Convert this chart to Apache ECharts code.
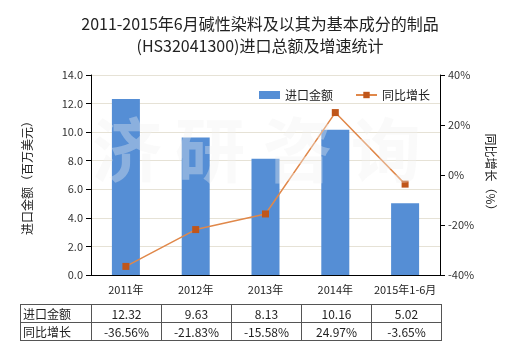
<!DOCTYPE html>
<html><head><meta charset="utf-8">
<script src="https://cdn.jsdelivr.net/npm/echarts@6/dist/echarts.min.js"></script>
<style>
html,body{margin:0;padding:0;background:#fff;}
#c{width:520px;height:350px;position:relative;}
#tbl{position:absolute;left:20px;top:304px;border-collapse:collapse;font-family:"Noto Sans CJK SC",sans-serif;font-size:12px;color:#222;}
#tbl td{border:1px solid #555;height:17px;padding:0;line-height:17px;text-align:center;width:69px;}
#tbl td.h{text-align:left;padding-left:2px;width:68px;}
</style></head>
<body>
<div id="c"><div id="chart" style="width:520px;height:350px;"></div>
<table id="tbl"></table></div>
<script>
var categories = ['2011年','2012年','2013年','2014年','2015年1-6月'];
var importValues = [12.32, 9.63, 8.13, 10.16, 5.02];
var growthValues = [-36.56, -21.83, -15.58, 24.97, -3.65];
var importLabels = ['12.32','9.63','8.13','10.16','5.02'];
var growthLabels = ['-36.56%','-21.83%','-15.58%','24.97%','-3.65%'];
var seriesNames = ['进口金额','同比增长'];

var font = '"Noto Sans CJK SC", sans-serif';
var chart = echarts.init(document.getElementById('chart'));
var wm = ['济','研','咨','询'];
var wmX = [127,210,298,386];
chart.setOption({
  animation:false,
  title:{text:'2011-2015年6月碱性染料及以其为基本成分的制品\n(HS32041300)进口总额及增速统计',left:'center',top:8,
    textStyle:{fontFamily:font,fontSize:16,fontWeight:'normal',color:'#222',lineHeight:22}},
  legend:{left:254,top:84,itemWidth:21,itemHeight:8,itemGap:22,
    textStyle:{fontFamily:font,fontSize:12,color:'#222'},
    data:[{name:seriesNames[0],icon:'rect'},{name:seriesNames[1]}]},
  grid:{left:91,right:80,top:75,height:200},
  xAxis:{type:'category',data:categories,
    axisLine:{lineStyle:{color:'#000'}},axisTick:{alignWithLabel:true,lineStyle:{color:'#000'}},
    axisLabel:{fontFamily:font,fontSize:11,color:'#222',margin:9,interval:0}},
  yAxis:[{type:'value',min:0,max:14,interval:2,name:'进口金额（百万美元）',nameLocation:'middle',nameGap:58,
    nameTextStyle:{fontFamily:font,fontSize:12,color:'#222'},
    axisLine:{show:true,lineStyle:{color:'#000'}},axisTick:{show:true,lineStyle:{color:'#000'}},
    axisLabel:{fontFamily:font,fontSize:11,color:'#333',formatter:function(v){return v.toFixed(1);}},
    splitLine:{lineStyle:{color:'#E6E2D6'}}},
   {type:'value',min:-40,max:40,interval:20,name:'同比增长（%）',nameLocation:'middle',nameGap:44,nameRotate:-90,
    nameTextStyle:{fontFamily:font,fontSize:12,color:'#222'},
    axisLine:{show:true,lineStyle:{color:'#000'}},axisTick:{show:true,lineStyle:{color:'#000'}},
    axisLabel:{fontFamily:font,fontSize:11,color:'#333',formatter:'{value}%'},
    splitLine:{show:false}}],
  graphic:wm.map(function(t,i){return {type:'text',z:100,x:wmX[i],y:150,
    style:{text:t,font:'bold 70px "Noto Sans CJK SC"',fill:'rgba(240,240,240,0.35)',align:'center',verticalAlign:'middle'}};}),
  series:[
    {name:seriesNames[0],type:'bar',data:importValues,barWidth:28,itemStyle:{color:'#558ED5'}},
    {name:seriesNames[1],type:'line',yAxisIndex:1,data:growthValues,symbol:'rect',symbolSize:7,
     lineStyle:{color:'#E0884A',width:1.5},itemStyle:{color:'#C0561A'}}
  ]
});
var tbl = document.getElementById('tbl');
function row(h, arr){var tr=document.createElement('tr');var td=document.createElement('td');td.className='h';td.textContent=h;tr.appendChild(td);
  arr.forEach(function(v){var d=document.createElement('td');d.textContent=v;tr.appendChild(d);});tbl.appendChild(tr);}
row(seriesNames[0], importLabels);
row(seriesNames[1], growthLabels);
</script>
</body></html>
